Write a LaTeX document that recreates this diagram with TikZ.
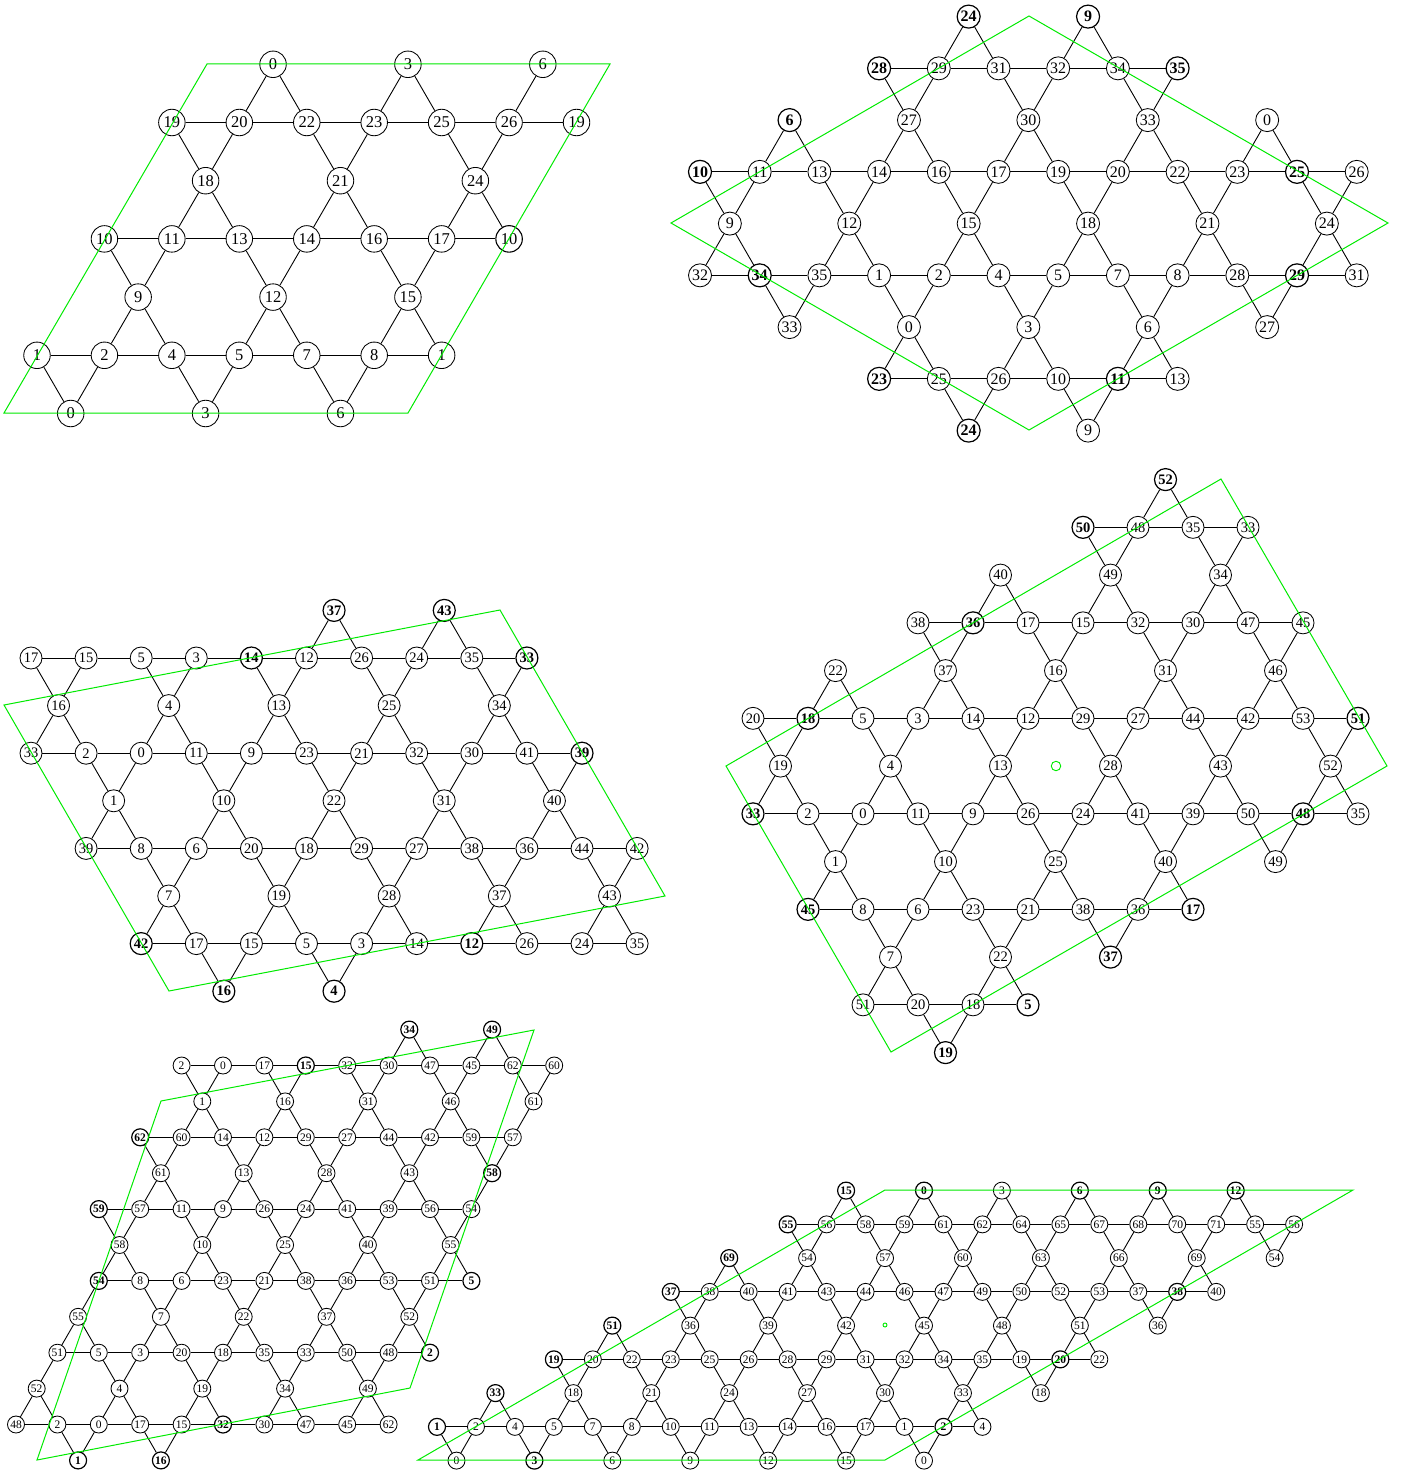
\documentclass[tikz,border=0pt]{standalone}
\usepackage{fontspec}
\setmainfont{Liberation Serif}
\definecolor{cellgreen}{RGB}{0,235,0}
\def\kd{26}\def\kfs{16}
\tikzset{
  kbase/.style={circle,draw=black,fill=white,inner sep=0pt,minimum size=\kd pt,
    font=\fontsize{\kfs}{\kfs}\selectfont},
  kn/.style={kbase,line width=0.85pt},
  km/.style={kbase,line width=1.1pt},
  kb/.style={kbase,line width=1.2pt,font=\fontsize{\kfs}{\kfs}\selectfont\bfseries},
  kline/.style={black,line width=0.9pt},
  cellline/.style={cellgreen,line width=1pt}
}
% lattice parameters: \kp name, \kx \ky origin, \ku half spacing, \kh row height
\newcommand\kset[5]{\def\kp{#1}\def\kx{#2}\def\ky{#3}\def\ku{#4}\def\kh{#5}}
\newcommand\krow[4]{%
  \foreach \lab/\st [count=\kk from 0] in {#4}{%
    \pgfmathtruncatemacro\kc{#2+#3*\kk}%
    \pgfmathsetmacro\kxx{\kx+\ku*\kc}%
    \pgfmathsetmacro\kyy{\ky+\kh*#1}%
    \node[style=k\st] (\kp-\kc-#1) at (\kxx,\kyy) {\lab};
  }}
\newcommand\kedge[2]{\ifcsname pgf@sh@ns@#2\endcsname
  \ifcsname kskip@#1@#2\endcsname\else\draw[kline] (#1) -- (#2);\fi\fi}
\newcommand\kedges[3]{%
  \foreach \kr in {0,...,#3}{\foreach \kc in {0,...,#2}{%
    \ifcsname pgf@sh@ns@#1-\kc-\kr\endcsname
      \edef\kcb{\the\numexpr\kc+2\relax}%
      \edef\kcp{\the\numexpr\kc+1\relax}%
      \edef\kcm{\the\numexpr\kc-1\relax}%
      \edef\krn{\the\numexpr\kr+1\relax}%
      \kedge{#1-\kc-\kr}{#1-\kcb-\kr}%
      \kedge{#1-\kc-\kr}{#1-\kcp-\krn}%
      \kedge{#1-\kc-\kr}{#1-\kcm-\krn}%
    \fi}}}
\expandafter\def\csname kskip@L1-15-0@L1-16-1\endcsname{}
\begin{document}
\begin{tikzpicture}[x=1pt,y=-1pt]
\useasboundingbox (0,0) rectangle (1401,1472);
\fill[white] (0,0) rectangle (1401,1472);

% ---------- lattice 1
\def\kd{26.5}\def\kfs{16.5}
\kset{L1}{37}{64.3}{33.72}{58.2}
\krow{0}{7}{4}{0/n,3/n,6/n}
\krow{1}{4}{2}{19/n,20/n,22/n,23/n,25/n,26/n,19/n}
\krow{2}{5}{4}{18/n,21/n,24/n}
\krow{3}{2}{2}{10/n,11/n,13/n,14/n,16/n,17/n,10/m}
\krow{4}{3}{4}{9/n,12/n,15/n}
\krow{5}{0}{2}{1/n,2/n,4/n,5/n,7/n,8/n,1/n}
\krow{6}{1}{4}{0/n,3/n,6/n}
\kedges{L1}{18}{6}
\draw[cellline] (4,413) -- (408,413) -- (610,64) -- (207,64) -- cycle;

% ---------- lattice 2
\def\kd{23}\def\kfs{16}
\kset{L2}{700}{16.6}{29.85}{51.75}
\krow{0}{9}{4}{24/b,9/b}
\krow{1}{6}{2}{28/b,29/n,31/n,32/n,34/n,35/b}
\krow{2}{3}{4}{6/b,27/n,30/n,33/n,0/n}
\krow{3}{0}{2}{10/b,11/n,13/n,14/n,16/n,17/n,19/n,20/n,22/n,23/n,25/b,26/n}
\krow{4}{1}{4}{9/n,12/n,15/n,18/n,21/n,24/n}
\krow{5}{0}{2}{32/n,34/b,35/n,1/n,2/n,4/n,5/n,7/n,8/n,28/n,29/b,31/n}
\krow{6}{3}{4}{33/n,0/n,3/n,6/n,27/n}
\krow{7}{6}{2}{23/b,25/n,26/n,10/n,11/b,13/n}
\krow{8}{9}{4}{24/b,9/n}
\kedges{L2}{24}{8}
\draw[cellline] (671,223) -- (1029,16) -- (1388,223) -- (1029,430) -- cycle;

% ---------- lattice 3
\def\kd{22}\def\kfs{14.5}
\kset{L3}{31}{610.4}{27.55}{47.6}
\krow{0}{11}{4}{37/b,43/b}
\krow{1}{0}{2}{17/n,15/n,5/n,3/n,14/b,12/n,26/n,24/n,35/n,33/b}
\krow{2}{1}{4}{16/n,4/n,13/n,25/n,34/n}
\krow{3}{0}{2}{33/n,2/n,0/n,11/n,9/n,23/n,21/n,32/n,30/n,41/n,39/b}
\krow{4}{3}{4}{1/n,10/n,22/n,31/n,40/n}
\krow{5}{2}{2}{39/n,8/n,6/n,20/n,18/n,29/n,27/n,38/n,36/n,44/n,42/n}
\krow{6}{5}{4}{7/n,19/n,28/n,37/n,43/n}
\krow{7}{4}{2}{42/b,17/n,15/n,5/n,3/n,14/n,12/b,26/n,24/n,35/n}
\krow{8}{7}{4}{16/b,4/b}
\kedges{L3}{24}{8}
\draw[cellline] (4,705) -- (500,610) -- (665,896) -- (169,991) -- cycle;

% ---------- lattice 4
\kset{L4}{753}{479.6}{27.5}{47.75}
\krow{0}{15}{4}{52/b}
\krow{1}{12}{2}{50/b,48/n,35/n,33/n}
\krow{2}{9}{4}{40/n,49/n,34/n}
\krow{3}{6}{2}{38/n,36/b,17/n,15/n,32/n,30/n,47/n,45/n}
\krow{4}{3}{4}{22/n,37/n,16/n,31/n,46/n}
\krow{5}{0}{2}{20/n,18/b,5/n,3/n,14/n,12/n,29/n,27/n,44/n,42/n,53/n,51/b}
\krow{6}{1}{4}{19/n,4/n,13/n}
\krow{6}{13}{4}{28/n,43/n,52/n}
\krow{7}{0}{2}{33/b,2/n,0/n,11/n,9/n,26/n,24/n,41/n,39/n,50/n,48/b,35/n}
\krow{8}{3}{4}{1/n,10/n,25/n,40/n,49/n}
\krow{9}{2}{2}{45/b,8/n,6/n,23/n,21/n,38/n,36/n,17/b}
\krow{10}{5}{4}{7/n,22/n,37/b}
\krow{11}{4}{2}{51/n,20/n,18/n,5/b}
\krow{12}{7}{4}{19/b}
\kedges{L4}{24}{12}
\draw[cellline] (726,766) -- (1221,479) -- (1387,766) -- (891,1052) -- cycle;
\node[circle,draw=cellgreen,line width=0.9pt,inner sep=0pt,minimum size=9.5pt] (centerfour) at (1056,766) {};

% ---------- lattice 5
\def\kd{17}\def\kfs{11.5}
\kset{L5}{16}{1029.6}{20.7}{35.9}
\krow{0}{19}{4}{34/b,49/b}
\krow{1}{8}{2}{2/n,0/n,17/n,15/b,32/n,30/n,47/n,45/n,62/n,60/n}
\krow{2}{9}{4}{1/n,16/n,31/n,46/n,61/n}
\krow{3}{6}{2}{62/b,60/n,14/n,12/n,29/n,27/n,44/n,42/n,59/n,57/n}
\krow{4}{7}{4}{61/n,13/n,28/n,43/n,58/b}
\krow{5}{4}{2}{59/b,57/n,11/n,9/n,26/n,24/n,41/n,39/n,56/n,54/n}
\krow{6}{5}{4}{58/n,10/n,25/n,40/n,55/n}
\krow{7}{4}{2}{54/b,8/n,6/n,23/n,21/n,38/n,36/n,53/n,51/n,5/b}
\krow{8}{3}{4}{55/n,7/n,22/n,37/n,52/n}
\krow{9}{2}{2}{51/n,5/n,3/n,20/n,18/n,35/n,33/n,50/n,48/n,2/b}
\krow{10}{1}{4}{52/n,4/n,19/n,34/n,49/n}
\krow{11}{0}{2}{48/n,2/n,0/n,17/n,15/n,32/b,30/n,47/n,45/n,62/n}
\krow{12}{3}{4}{1/b,16/b}
\kedges{L5}{28}{12}
\draw[cellline] (37,1460) -- (161,1101) -- (534,1030) -- (410,1388) -- cycle;

% ---------- lattice 6
\kset{L6}{437}{1190.6}{19.48}{33.75}
\krow{0}{21}{4}{15/b,0/b,3/n,6/b,9/b,12/b}
\krow{1}{18}{2}{55/b,56/n,58/n,59/n,61/n,62/n,64/n,65/n,67/n,68/n,70/n,71/n,55/n,56/n}
\krow{2}{15}{4}{69/b,54/n,57/n,60/n,63/n,66/n,69/n,54/n}
\krow{3}{12}{2}{37/b,38/n,40/n,41/n,43/n,44/n,46/n,47/n,49/n,50/n,52/n,53/n,37/n,38/b,40/n}
\krow{4}{9}{4}{51/b,36/n,39/n,42/n,45/n,48/n,51/n,36/n}
\krow{5}{6}{2}{19/b,20/n,22/n,23/n,25/n,26/n,28/n,29/n,31/n,32/n,34/n,35/n,19/n,20/b,22/n}
\krow{6}{3}{4}{33/b,18/n,21/n,24/n,27/n,30/n,33/n,18/n}
\krow{7}{0}{2}{1/b,2/n,4/n,5/n,7/n,8/n,10/n,11/n,13/n,14/n,16/n,17/n,1/n,2/b,4/n}
\krow{8}{1}{4}{0/n,3/b,6/n,9/n,12/n,15/n,0/n}
\kedges{L6}{46}{8}
\draw[cellline] (418,1460) -- (885,1460) -- (1353,1190) -- (885,1190) -- cycle;
\node[circle,draw=cellgreen,line width=0.9pt,inner sep=0pt,minimum size=4pt] (centersix) at (885,1325) {};
\end{tikzpicture}
\end{document}
